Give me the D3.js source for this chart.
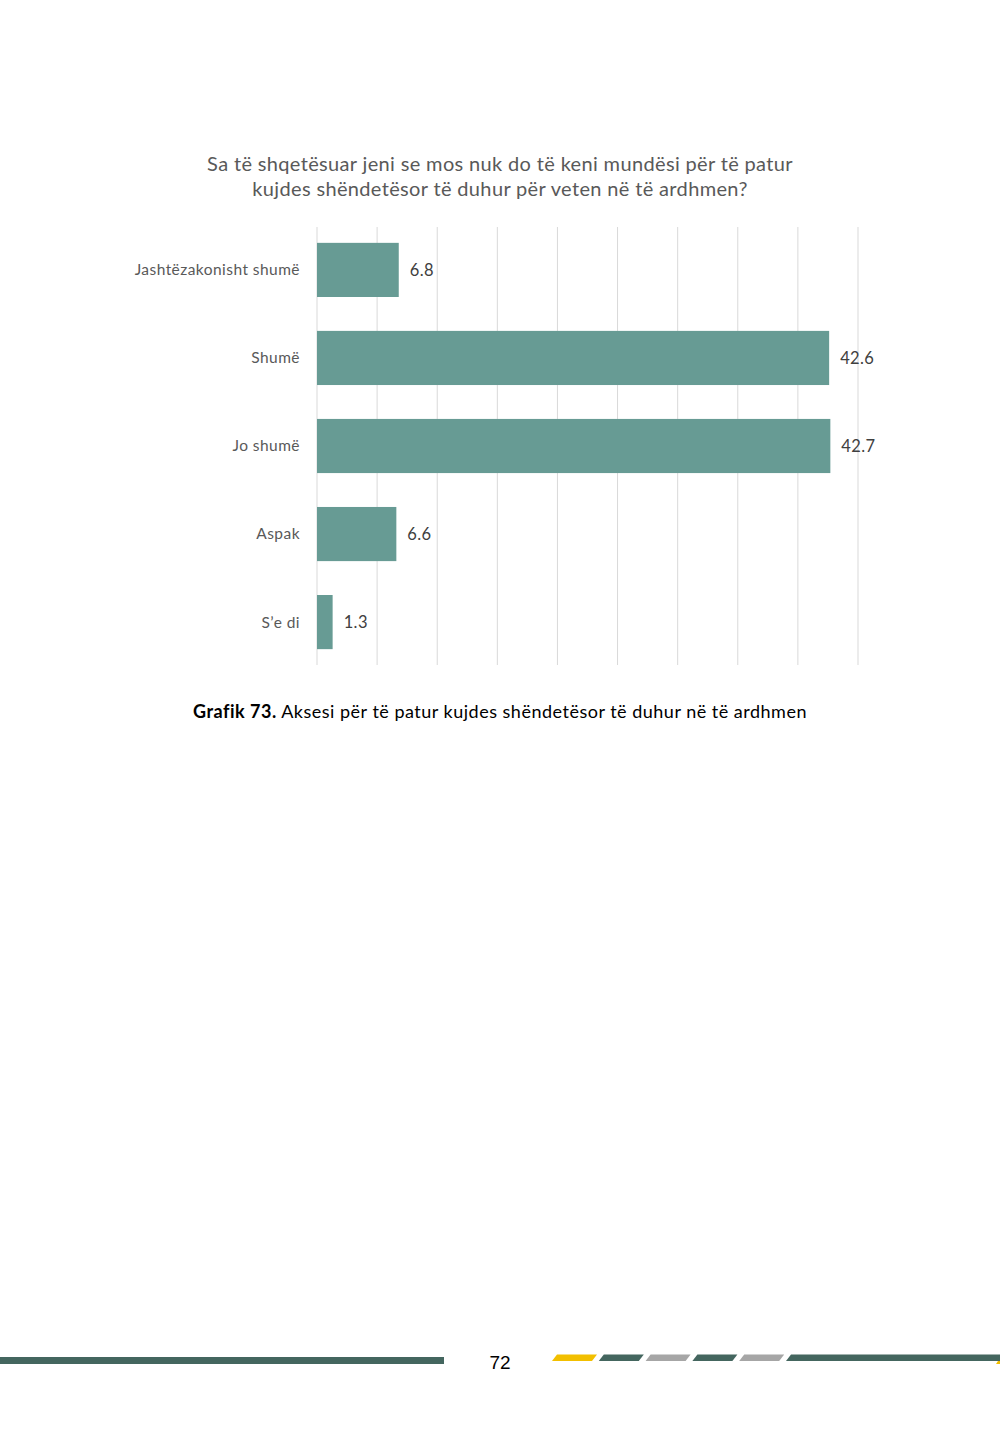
<!DOCTYPE html>
<html>
<head>
<meta charset="utf-8">
<script src="https://cdn.jsdelivr.net/npm/d3@7"></script>
<style>
  html, body { margin: 0; padding: 0; background: #fff; }
  svg { display: block; }
</style>
</head>
<body>
<svg id="chart" width="1000" height="1448"></svg>
<script>
const titleLines = [
  "Sa të shqetësuar jeni se mos nuk do të keni mundësi për të patur",
  "kujdes shëndetësor të duhur për veten në të ardhmen?"
];
const categories = ["Jashtëzakonisht shumë", "Shumë", "Jo shumë", "Aspak", "S’e di"];
const values = [6.8, 42.6, 42.7, 6.6, 1.3];
const valueLabels = ["6.8", "42.6", "42.7", "6.6", "1.3"];
const xTicks = [0, 5, 10, 15, 20, 25, 30, 35, 40, 45];
const captionBold = "Grafik 73.";
const captionText = " Aksesi për të patur kujdes shëndetësor të duhur në të ardhmen";
const pageNumber = "72";
const footerDashColors = ["#f2bf00", "#44665f", "#a6a6a6", "#44665f", "#a6a6a6"];

const FONT = "'Lato', 'DejaVu Sans', sans-serif";
const svg = d3.select("#chart");

const x = d3.scaleLinear().domain([0, 45]).range([317, 858]);
const y = d3.scaleBand().domain(categories).range([227, 665]).paddingInner(0.385).paddingOuter(0.18);

// Title
svg.append("g").selectAll("text").data(titleLines).join("text")
  .attr("x", 500).attr("y", (d, i) => 171 + i * 25)
  .attr("text-anchor", "middle")
  .attr("font-family", FONT).attr("font-size", 20)
  .attr("letter-spacing", 0.35)
  .attr("fill", "#595959")
  .text(d => d);

// Gridlines
svg.append("g").selectAll("line").data(xTicks).join("line")
  .attr("x1", d => x(d)).attr("x2", d => x(d))
  .attr("y1", 227).attr("y2", 665)
  .attr("stroke", "#d9d9d9").attr("stroke-width", 1);

// Bars
svg.append("g").selectAll("rect").data(values).join("rect")
  .attr("x", x(0))
  .attr("y", (d, i) => y(categories[i]))
  .attr("width", d => x(d) - x(0))
  .attr("height", y.bandwidth())
  .attr("fill", "#679b94");

// Value labels
svg.append("g").selectAll("text").data(values).join("text")
  .attr("x", d => x(d) + 11)
  .attr("y", (d, i) => y(categories[i]) + y.bandwidth() / 2)
  .attr("dy", "0.35em")
  .attr("font-family", FONT).attr("font-size", 16.5)
  .attr("letter-spacing", 0.4)
  .attr("fill", "#404040")
  .text((d, i) => valueLabels[i]);

// Category labels
svg.append("g").selectAll("text").data(categories).join("text")
  .attr("x", 300)
  .attr("y", d => y(d) + y.bandwidth() / 2)
  .attr("dy", "0.35em")
  .attr("text-anchor", "end")
  .attr("font-family", FONT).attr("font-size", 15.5)
  .attr("letter-spacing", 0.45)
  .attr("fill", "#595959")
  .text(d => d);

// Caption
const cap = svg.append("text")
  .attr("x", 500).attr("y", 718)
  .attr("text-anchor", "middle")
  .attr("font-family", FONT).attr("font-size", 18)
  .attr("letter-spacing", 0.5)
  .attr("fill", "#000");
cap.append("tspan").attr("font-weight", "bold").text(captionBold);
cap.append("tspan").text(captionText);

// Footer
svg.append("rect").attr("x", 0).attr("y", 1357).attr("width", 444).attr("height", 7).attr("fill", "#44665f");
svg.append("text").attr("x", 500).attr("y", 1369).attr("text-anchor", "middle")
  .attr("font-family", "'Liberation Sans', sans-serif").attr("font-size", 19).attr("fill", "#000")
  .text(pageNumber);
const dashG = svg.append("g");
footerDashColors.forEach((c, i) => {
  const x0 = 552 + i * 46.8;
  dashG.append("path")
    .attr("d", `M${x0},1361 L${x0 + 5},1354.5 L${x0 + 45},1354.5 L${x0 + 40},1361 Z`)
    .attr("fill", c);
});
dashG.append("path")
  .attr("d", `M786,1361 L791,1354.5 L1000,1354.5 L1000,1361 Z`)
  .attr("fill", "#44665f");
dashG.append("path")
  .attr("d", `M996,1364 L998,1361 L1000,1361 L1000,1364 Z`)
  .attr("fill", "#f2bf00");
</script>
</body>
</html>
